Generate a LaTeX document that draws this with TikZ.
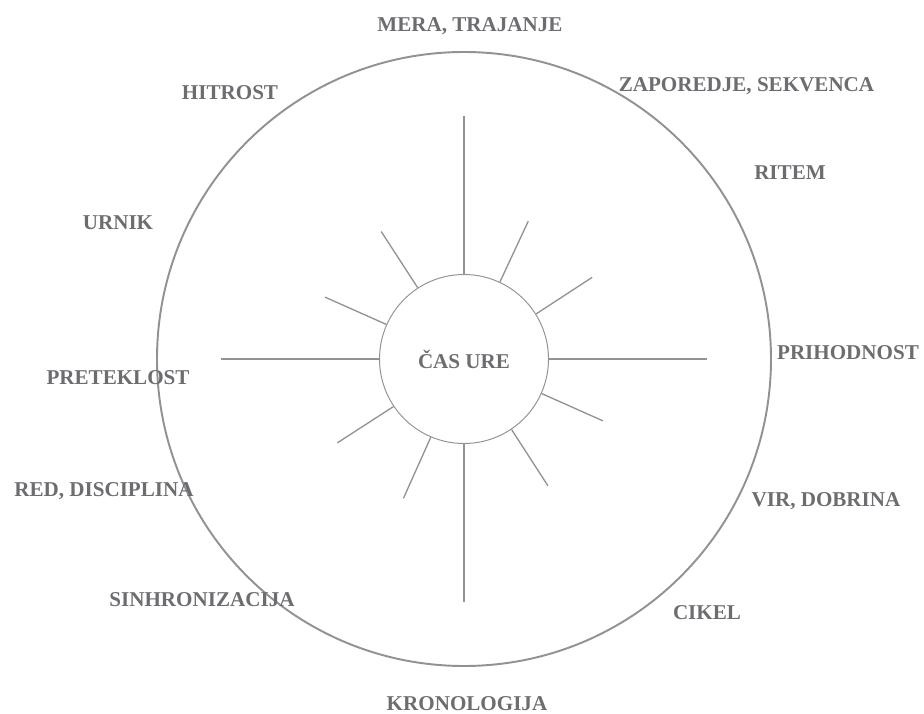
\documentclass[tikz,border=0pt]{standalone}
\usepackage{fontspec}
\setmainfont{Liberation Serif}
\definecolor{labelgray}{RGB}{108,109,112}
\definecolor{linegray}{RGB}{146,146,150}
\begin{document}
\begin{tikzpicture}[line cap=butt,
    word/.style={font=\bfseries\fontsize{12}{14}\selectfont,text=labelgray,anchor=base,inner sep=0pt}]
     % Definitions
     \def\R{6.14}
     \def\r{1.69}
     \def\len{4.86}
     \def\ray{3.04}
     \useasboundingbox (-9.28,-7.08) rectangle (9.2,7.18);
     % Circles
     \draw[linegray,line width=1.1pt] (0,0) circle (\R);
     \node[circle,draw=linegray,line width=0.55pt,minimum size=2*\r cm,inner sep=0pt,
       font=\bfseries\fontsize{12}{14}\selectfont,text=labelgray] (core) at (0,0) {ČAS URE};
     % Long and short rays
     \foreach \a [count=\i] in {0,90,180,270} {
      \coordinate (arm\i) at (\a:\len);
      \draw[linegray,line width=1.4pt] (core.\a) -- (arm\i);
     };
     \foreach \a [count=\i] in {65,32.5,-24,-56.5,-113.5,-146.5,156,123} {
      \coordinate (ray\i) at (\a:\ray);
      \draw[linegray,line width=0.75pt] (core.\a) -- (ray\i);
     };
     % Labels
     \foreach \n/\x/\y/\t in {mera/0.12/6.54/{MERA, TRAJANJE},zaporedje/5.65/5.34/{ZAPOREDJE, SEKVENCA},
       ritem/6.52/3.58/RITEM,hitrost/-4.68/5.18/HITROST,urnik/-6.92/2.58/URNIK,
       preteklost/-6.92/-0.5/PRETEKLOST,red/-7.2/-2.74/{RED, DISCIPLINA},
       sinhronizacija/-5.24/-4.94/SINHRONIZACIJA,prihodnost/7.68/0/PRIHODNOST,
       vir/7.24/-2.94/{VIR, DOBRINA},cikel/4.86/-5.2/CIKEL,kronologija/0.06/-7.02/KRONOLOGIJA} {
      \node[word] (\n) at (\x,\y) {\t};
     };
    \end{tikzpicture}
\end{document}
